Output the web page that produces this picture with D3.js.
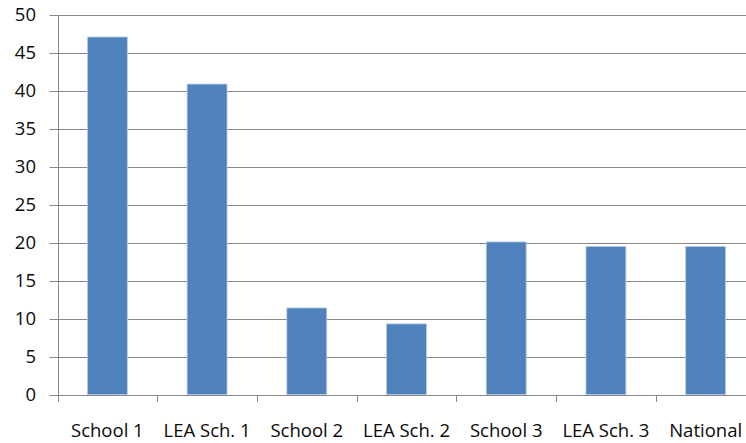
<!DOCTYPE html>
<html>
<head>
<meta charset="utf-8">
<script src="https://cdn.jsdelivr.net/npm/d3@7"></script>
<style>
  html, body { margin: 0; padding: 0; background: #fff; }
  svg { display: block; }
  text { font-family: "Open Sans", "Liberation Sans", sans-serif; fill: #0a0a0a; }
</style>
</head>
<body>
<svg id="chart" width="746" height="443"></svg>
<script>
// Categories along the horizontal axis
const categories = ["School 1", "LEA Sch. 1", "School 2", "LEA Sch. 2", "School 3", "LEA Sch. 3", "National"];
// One value per category
const values = [47.1, 40.9, 11.4, 9.3, 20.1, 19.5, 19.5];
// Vertical axis ticks
const yTicks = [0, 5, 10, 15, 20, 25, 30, 35, 40, 45, 50];

const svg = d3.select("#chart");
const W = 746, H = 443;
const plotLeft = 57.5, plotRight = 755.5, plotTop = 15, plotBottom = 394.5;

const x = d3.scaleBand().domain(categories).range([plotLeft, plotRight]).paddingInner(0.6).paddingOuter(0.3);
const xEdge = d3.scaleBand().domain(categories).range([plotLeft, plotRight]).padding(0);
const y = d3.scaleLinear().domain([0, 50]).range([plotBottom, plotTop]);

const gridColor = "#878787";

// Horizontal gridlines, extending left as tick marks
svg.append("g")
  .selectAll("line")
  .data(yTicks)
  .join("line")
  .attr("x1", plotLeft - 8)
  .attr("x2", W)
  .attr("y1", d => Math.round(y(d)) + 0.5)
  .attr("y2", d => Math.round(y(d)) + 0.5)
  .attr("stroke", gridColor)
  .attr("stroke-width", 1);

// Y-axis tick labels
svg.append("g")
  .selectAll("text")
  .data(yTicks)
  .join("text")
  .attr("x", 36)
  .attr("y", d => y(d))
  .attr("dy", "0.35em")
  .attr("text-anchor", "end")
  .attr("font-size", 18.5)
  .text(d => d);

// Bars
svg.append("g")
  .selectAll("rect")
  .data(values)
  .join("rect")
  .attr("x", (d, i) => x(categories[i]))
  .attr("width", x.bandwidth())
  .attr("y", d => y(d))
  .attr("height", d => y(0) - y(d))
  .attr("fill", "#4F81BD")
  .attr("stroke", "#b7c9e2")
  .attr("stroke-width", 0.8);

// Vertical axis line
svg.append("line")
  .attr("x1", Math.round(plotLeft) + 0.5).attr("x2", Math.round(plotLeft) + 0.5)
  .attr("y1", Math.round(y(50)) + 0.5).attr("y2", Math.round(y(0)) + 0.5)
  .attr("stroke", gridColor);

// Category tick marks at band boundaries
const edges = categories.map(c => xEdge(c));
svg.append("g")
  .selectAll("line")
  .data(edges)
  .join("line")
  .attr("x1", d => Math.round(d) + 0.5)
  .attr("x2", d => Math.round(d) + 0.5)
  .attr("y1", Math.round(y(0)) + 0.5)
  .attr("y2", Math.round(y(0)) + 7)
  .attr("stroke", gridColor);

// Category labels
svg.append("g")
  .selectAll("text")
  .data(categories)
  .join("text")
  .attr("x", d => xEdge(d) + xEdge.bandwidth() / 2)
  .attr("y", 437)
  .attr("text-anchor", "middle")
  .attr("font-size", 18.5)
  .text(d => d);
</script>
</body>
</html>
